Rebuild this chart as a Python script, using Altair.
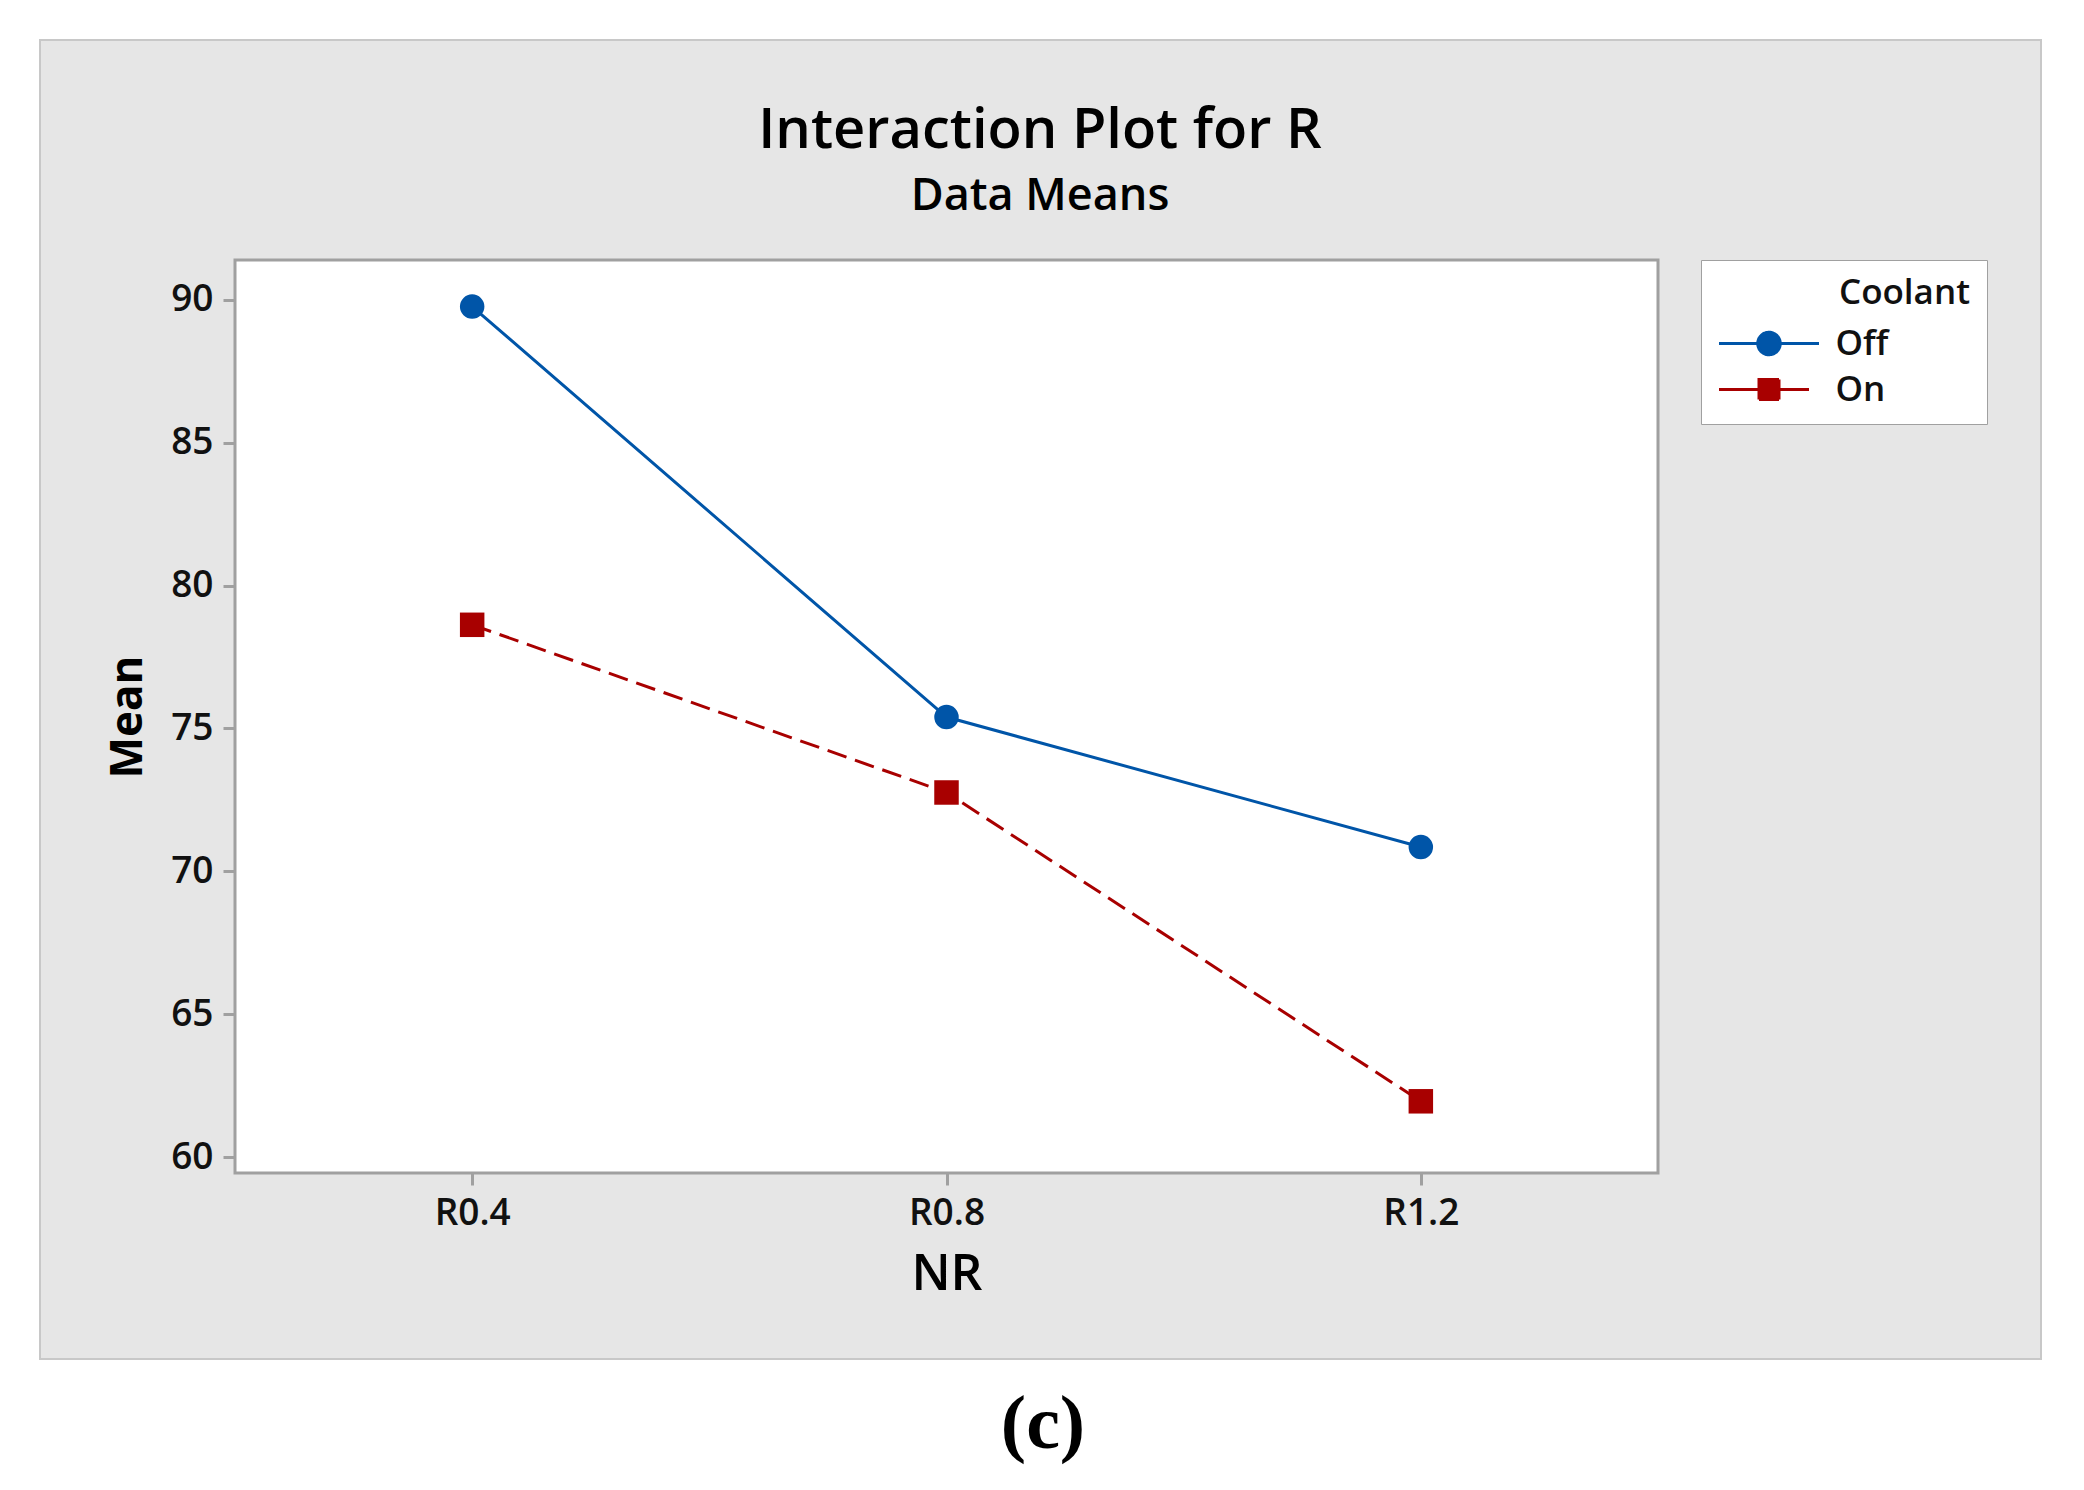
import altair as alt
import pandas as pd

# ---- data ----
nr_levels = ["R0.4", "R0.8", "R1.2"]
coolant_levels = ["Off", "On"]
mean_off = [89.77, 75.40, 70.85]
mean_on = [78.63, 72.76, 61.95]
y_ticks = [60, 65, 70, 75, 80, 85, 90]
series_colors = ["#0055A8", "#A80000"]

rows = []
for lvl, v in zip(nr_levels, mean_off):
    rows.append({"NR": lvl, "Coolant": "Off", "Mean": v})
for lvl, v in zip(nr_levels, mean_on):
    rows.append({"NR": lvl, "Coolant": "On", "Mean": v})
df = pd.DataFrame(rows)
one = pd.DataFrame({"k": [0]})

W, H = 1423, 913
FONT = "Open Sans"

x_enc = alt.X(
    "NR:N",
    sort=nr_levels,
    scale=alt.Scale(type="point", domain=nr_levels, padding=0.5),
    axis=alt.Axis(title="NR", labelAngle=0, titleFontSize=50, titleFontWeight=600,
                  titlePadding=18, zindex=1),
)
y_enc = alt.Y(
    "Mean:Q",
    scale=alt.Scale(domain=[59.44, 91.40], nice=False, zero=False),
    axis=alt.Axis(title="Mean", values=y_ticks, titleFontSize=44, titleFontWeight="bold",
                  titlePadding=20, zindex=1),
)
color_enc = alt.Color("Coolant:N", scale=alt.Scale(domain=coolant_levels, range=series_colors),
                      legend=None)

# legend-source layer: drawn first, then hidden under the white plot frame
off_path = "M-4,0H4M0.9,0A0.9,0.9,0,1,1,-0.9,0A0.9,0.9,0,1,1,0.9,0Z"
on_path = "M-4,0H3.2M-0.8,-0.8H0.8V0.8H-0.8Z"
pad = "\u00a0" * 9 + "\u200b"
leg = alt.Legend(
    title="Coolant", orient="none", legendX=1466, legendY=0,
    symbolSize=625, symbolStrokeWidth=3, symbolDash=[1, 0],
    symbolOffset=34.5, labelOffset=49,
    labelExpr="datum.label + '" + pad + "'",
    titleAnchor="end", padding=16, fillColor="white", strokeColor="#A0A0A0",
    titlePadding=15, rowPadding=10,
    labelFont=FONT, titleFont=FONT, labelFontSize=35, titleFontSize=35,
    labelFontWeight=600, titleFontWeight=600, labelColor="#111111", titleColor="#111111",
    zindex=1,
)
legend_layer = alt.Chart(df).mark_point(filled=True, strokeWidth=3, opacity=1).encode(
    x=x_enc, y=y_enc,
    fill=alt.Fill("Coolant:N", scale=alt.Scale(domain=coolant_levels, range=series_colors), legend=leg),
    stroke=alt.Stroke("Coolant:N", scale=alt.Scale(domain=coolant_levels, range=series_colors), legend=leg),
    shape=alt.Shape("Coolant:N", scale=alt.Scale(domain=coolant_levels, range=[off_path, on_path]), legend=leg),
)

# white plot frame with grey border
frame = alt.Chart(one).mark_rect(fill="white", stroke="#A0A0A0", strokeWidth=3).encode(
    x=alt.value(0), x2=alt.value(W), y=alt.value(0), y2=alt.value(H)
)

line_off = alt.Chart(df).transform_filter(alt.datum.Coolant == "Off").mark_line(
    strokeWidth=3).encode(x=x_enc, y=y_enc, color=color_enc)
line_on = alt.Chart(df).transform_filter(alt.datum.Coolant == "On").mark_line(
    strokeWidth=3, strokeDash=[20, 9]).encode(x=x_enc, y=y_enc, color=color_enc)
pts_off = alt.Chart(df).transform_filter(alt.datum.Coolant == "Off").mark_circle(
    size=600, opacity=1).encode(x=x_enc, y=y_enc, color=color_enc)
pts_on = alt.Chart(df).transform_filter(alt.datum.Coolant == "On").mark_square(
    size=600, opacity=1).encode(x=x_enc, y=y_enc, color=color_enc)

# white page margins around the grey panel (canvas background is the panel grey)
def white_rect(x1, x2, y1, y2):
    return alt.Chart(one).mark_rect(fill="white").encode(
        x=alt.value(x1), x2=alt.value(x2), y=alt.value(y1), y2=alt.value(y2))

m_top = white_rect(-240, 1850, -260, -220)
m_bottom = white_rect(-240, 1850, 1099, 1230)
m_left = white_rect(-240, -195, -260, 1230)
m_right = white_rect(1806, 1850, -260, 1230)
panel_border = alt.Chart(one).mark_rect(fill="transparent", stroke="#C8C8C8", strokeWidth=2).encode(
    x=alt.value(-195), x2=alt.value(1806), y=alt.value(-220), y2=alt.value(1099)
)

title_t = alt.Chart(one).mark_text(font=FONT, fontSize=56, fontWeight=600, align="center",
                                   baseline="alphabetic", color="#000000").encode(
    x=alt.value(805), y=alt.value(-112), text=alt.value("Interaction Plot for R"))
subtitle_t = alt.Chart(one).mark_text(font=FONT, fontSize=45, fontWeight=600, align="center",
                                      baseline="alphabetic", color="#000000").encode(
    x=alt.value(805), y=alt.value(-50), text=alt.value("Data Means"))
caption_t = alt.Chart(one).mark_text(font="Liberation Serif", fontSize=76, fontWeight="bold",
                                     align="center", baseline="alphabetic", color="#000000").encode(
    x=alt.value(808), y=alt.value(1188), text=alt.value("(c)"))

chart = alt.layer(
    legend_layer, frame, line_off, line_on, pts_off, pts_on,
    m_top, m_bottom, m_left, m_right, panel_border,
    title_t, subtitle_t, caption_t,
).properties(
    width=W, height=H,
    autosize=alt.AutoSizeParams(type="none"),
    padding={"left": 227, "top": 252, "right": 410, "bottom": 301},
    background="#E6E6E6",
).configure_view(stroke=None).configure_axis(
    labelFont=FONT, titleFont=FONT, labelFontSize=37, labelFontWeight=600,
    labelColor="#111111", titleColor="#000000",
    domain=False, grid=False, ticks=True, tickColor="#A0A0A0", tickWidth=3, tickSize=12,
    labelPadding=10,
)

chart.save("out.html", embed_options={"renderer": "svg", "actions": False})
